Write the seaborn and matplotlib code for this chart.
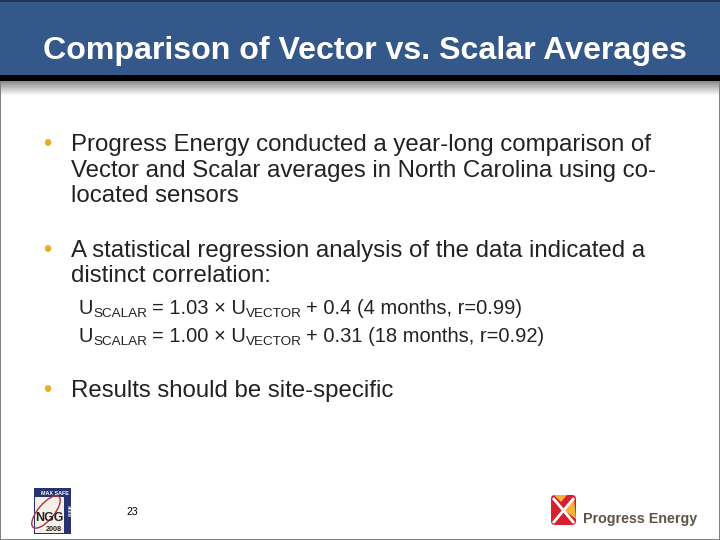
import numpy as np
import matplotlib
matplotlib.use("Agg")
import matplotlib.pyplot as plt
from matplotlib.patches import Rectangle, Ellipse, Polygon, FancyBboxPatch
import seaborn as sns

title_text = "Comparison of Vector vs. Scalar Averages"
bullet_one = ["Progress Energy conducted a year-long comparison of",
              "Vector and Scalar averages in North Carolina using co-",
              "located sensors"]
bullet_two = ["A statistical regression analysis of the data indicated a",
              "distinct correlation:"]
bullet_three = ["Results should be site-specific"]
eq_middle = ["= 1.03 × U", "= 1.00 × U"]
eq_tail = ["+ 0.4 (4 months, r=0.99)", "+ 0.31 (18 months, r=0.92)"]
page_number = "23"

sns.set_style("white")
plt.rcParams['font.family'] = ['Liberation Sans', 'DejaVu Sans']

fig = plt.figure(figsize=(7.2, 5.4), dpi=100)
ax = fig.add_axes([0, 0, 1, 1])
ax.set_xlim(0, 720)
ax.set_ylim(540, 0)
ax.axis('off')

# header band and its shadow
ax.add_patch(Rectangle((0, 0), 720, 75, color='#35588a', lw=0))
ax.add_patch(Rectangle((0, 0), 720, 1.5, color='#1f3558', lw=0))
ax.add_patch(Rectangle((0, 75), 720, 6, color='#000000', lw=0))
shade = np.linspace(0.55, 1, 16).reshape(-1, 1)
ax.imshow(shade, cmap='gray', vmin=0, vmax=1, extent=(0, 720, 96, 81), aspect='auto')
ax.set_xlim(0, 720)
ax.set_ylim(540, 0)

# slide border
ax.add_patch(Rectangle((0, 81), 1.2, 459, color='#808080', lw=0))
ax.add_patch(Rectangle((718.8, 81), 1.2, 459, color='#808080', lw=0))
ax.add_patch(Rectangle((0, 538.8), 720, 1.2, color='#808080', lw=0))

ax.text(43, 59, title_text, color='white', fontsize=23.1, fontweight='bold', va='baseline')

BODY = 17.3
EQ = 14.5
SUB = 9.7
for lines, y0, step in [(bullet_one, 151, 25.5), (bullet_two, 257, 25.5), (bullet_three, 397, 25)]:
    ax.text(43, y0, "•", color='#e8b020', fontsize=17, va='baseline')
    for i, line in enumerate(lines):
        ax.text(71, y0 + i * step, line, color='#222222', fontsize=BODY, va='baseline')

# equations with subscripts
for i, y in enumerate([314, 342]):
    ax.text(79, y, "U", color='#222222', fontsize=EQ, va='baseline')
    ax.text(93, y + 3, "SCALAR", color='#222222', fontsize=SUB, va='baseline')
    ax.text(152, y, eq_middle[i], color='#222222', fontsize=EQ, va='baseline')
    ax.text(246, y + 3, "VECTOR", color='#222222', fontsize=SUB, va='baseline')
    ax.text(306, y, eq_tail[i], color='#222222', fontsize=EQ, va='baseline')

ax.text(126, 515, page_number, color='black', fontsize=7.5, va='baseline')

# conference badge, lower left
ax.add_patch(Rectangle((34, 488), 37, 45.5, color='#27336f', lw=0))
ax.add_patch(Rectangle((35, 497), 29, 36, color='#f4f1ea', lw=0))
ax.add_patch(Ellipse((46, 512), 16, 40, angle=40, fill=False, ec='#b0303f', lw=1))
ax.text(55, 495, "MAX SAFE", color='white', fontsize=3.9, fontweight='bold', ha='center', va='baseline')
ax.text(67.8, 511, "SEEN", color='white', fontsize=3.2, fontweight='bold', rotation=270, ha='center', va='center')
ax.text(49.5, 521, "NGG", color='#2a2420', fontsize=9, fontweight='bold', ha='center', va='baseline')
ax.text(54, 531, "2008", color='#2a2420', fontsize=5.2, fontweight='bold', ha='center', va='baseline')

# company logo, lower right
ax.add_patch(FancyBboxPatch((551, 495), 25, 30, boxstyle="round,pad=0,rounding_size=4", fc='#d5202f', ec='none'))
ax.plot([553, 574], [498, 523], color='white', lw=2, solid_capstyle='butt')
ax.plot([574, 553], [498, 523], color='white', lw=2, solid_capstyle='butt')
ax.add_patch(Polygon([(565, 511), (574, 499), (576, 519)], fc='#f5b335', ec='none'))
ax.add_patch(Polygon([(554, 495), (567, 495), (561, 502)], fc='#f5b335', ec='none'))
ax.text(583, 523, "Progress Energy", color='#5d5546', fontsize=10.3, fontweight='bold', va='baseline')

fig.savefig("out.png", dpi=100)
